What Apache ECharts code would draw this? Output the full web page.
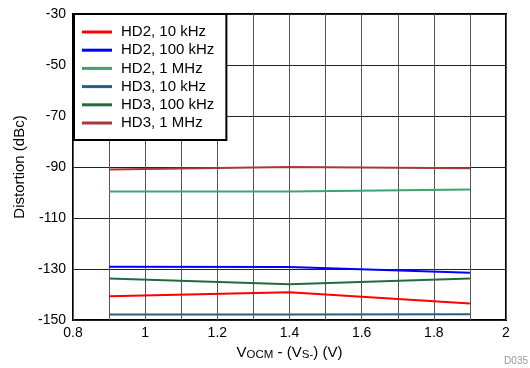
<!DOCTYPE html>
<html><head><meta charset="utf-8">
<script src="https://cdn.jsdelivr.net/npm/echarts@6/dist/echarts.min.js"></script>
<style>html,body{margin:0;padding:0;background:#fff}#c{width:530px;height:368px}</style>
</head><body><div id="c"></div>
<script>
const xVals = [0.9, 1.4, 1.9];
const seriesNames = ['HD2, 10 kHz','HD2, 100 kHz','HD2, 1 MHz','HD3, 10 kHz','HD3, 100 kHz','HD3, 1 MHz'];
const hd2_10k  = [-140.7, -139.1, -143.5];
const hd2_100k = [-129.1, -129.2, -131.5];
const hd2_1M   = [-99.6, -99.6, -98.8];
const hd3_10k  = [-147.8, -147.8, -147.7];
const hd3_100k = [-133.7, -136.0, -133.7];
const hd3_1M   = [-91.0, -90.0, -90.5];
const colors = ['#ff0000','#0000ff','#3ea36c','#2b5f80','#236a43','#a53a38'];
const allData = [hd2_10k, hd2_100k, hd2_1M, hd3_10k, hd3_100k, hd3_1M];
const font = 'Liberation Sans, Arial, Helvetica, sans-serif';

const chart = echarts.init(document.getElementById('c'));
chart.setOption({
  animation:false,
  grid:{left:73,right:24,top:14,bottom:48,show:true,borderColor:'#000',borderWidth:2,backgroundColor:'transparent'},
  xAxis:{type:'value',min:0.8,max:2,interval:0.2,
    axisLine:{show:false},axisTick:{show:false},
    axisLabel:{color:'#000',fontSize:14,fontFamily:font,margin:6},
    splitLine:{show:true,lineStyle:{color:'#555',width:1}},
    minorTick:{show:false,splitNumber:2},
    minorSplitLine:{show:true,lineStyle:{color:'#555',width:1}},
    name:'{a|V}{s|OCM}{a| - (V}{s|S-}{a|) (V)}',nameLocation:'middle',nameGap:22,
    nameTextStyle:{rich:{a:{fontSize:15,fontFamily:font,color:'#000'},s:{fontSize:11.5,fontFamily:font,color:'#000',verticalAlign:'bottom',padding:[5,0,0,0]}}}
  },
  yAxis:{type:'value',min:-150,max:-30,interval:20,
    axisLine:{show:false},axisTick:{show:false},
    axisLabel:{color:'#000',fontSize:14,fontFamily:font,margin:7},
    splitLine:{show:true,lineStyle:{color:'#222',width:1}},
    name:'Distortion (dBc)',nameLocation:'middle',nameGap:43,
    nameTextStyle:{fontSize:15,fontFamily:font,color:'#000'}
  },
  legend:{left:74,top:14,orient:'vertical',backgroundColor:'#fff',borderColor:'#000',borderWidth:2,
    padding:[10.5,12,9.5,8],itemGap:3.2,itemWidth:30,itemHeight:3,icon:'rect',
    textStyle:{fontSize:15,fontFamily:font,color:'#000',padding:[0,0,0,4]},
    data:seriesNames},
  graphic:[{type:'text',right:2,bottom:2,style:{text:'D035',fontSize:10,fontFamily:font,fill:'#999'}}],
  series: seriesNames.map((n,i)=>({name:n,type:'line',symbol:'none',
    lineStyle:{width:2,color:colors[i]},itemStyle:{color:colors[i]},
    data:xVals.map((x,j)=>[x,allData[i][j]])}))
});
</script></body></html>
